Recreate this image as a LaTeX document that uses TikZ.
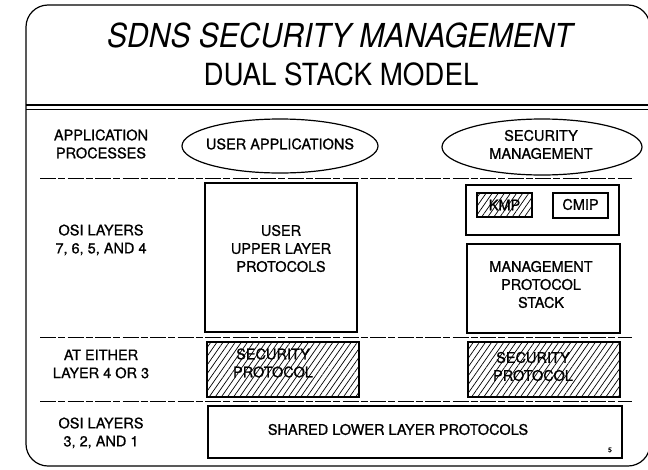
\documentclass[tikz,border=0pt]{standalone}
\usepackage{fontspec}
\setmainfont{TeX Gyre Heros}
\newfontfamily\titlefont[FakeStretch=0.91]{TeX Gyre Heros}
\newfontfamily\bodyfont[FakeBold=0.9]{TeX Gyre Heros}
\usetikzlibrary{shapes.geometric,patterns.meta}

\tikzset{
  frameline/.style={line width=1.2pt},
  layerline/.style={line width=0.7pt, dash pattern=on 16pt off 2pt on 7pt off 2.5pt},
  box/.style={draw, line width=1.3pt, inner sep=0pt, outer sep=0pt},
  hatched/.style={box, pattern={Lines[angle=55,distance=5pt,line width=0.7pt]}},
  oval/.style={draw, ellipse, line width=1.2pt, inner sep=0pt, outer sep=0pt},
  txt/.style={align=center, inner sep=0pt, font=\bodyfont\fontsize{14.5}{18}\selectfont},
}

\begin{document}
\begin{tikzpicture}[x=1pt, y=-1pt]
  \useasboundingbox (0,0) rectangle (648,469);
  \fill[white] (0,0) rectangle (648,469);

  % outer frame of the slide
  \draw[frameline, rounded corners=22pt] (650,466) -- (26,466) -- (26,5) -- (650,5) -- cycle;

  % title
  \node[anchor=base, inner sep=0pt, font=\titlefont\itshape\fontsize{33}{36}\selectfont] (title) at (340,47) {SDNS SECURITY MANAGEMENT};
  \node[anchor=base, inner sep=0pt, font=\titlefont\fontsize{30.5}{34}\selectfont] (subtitle) at (341,85) {DUAL STACK MODEL};

  % double rule under the title
  \draw[line width=1.8pt] (26,105) -- (648,105);
  \draw[line width=0.8pt] (26,109.5) -- (648,109.5);

  % layer separators
  \draw[layerline] (40,178) -- (632,178);
  \draw[layerline] (40,337) -- (632,337);
  \draw[layerline] (40,401) -- (632,401);

  % layer names
  \node[txt] (lapp) at (101,144) {APPLICATION\\PROCESSES};
  \node[txt] (losi7) at (101,240) {OSI LAYERS\\7, 6, 5, AND 4};
  \node[txt] (leither) at (101,364) {AT EITHER\\LAYER 4 OR 3};
  \node[txt] (losi3) at (101,433) {OSI LAYERS\\3, 2, AND 1};

  % application processes
  \node[oval, minimum width=196pt, minimum height=54pt] (userapp) at (280,146) {};
  \node[txt] (userapptext) at (280,144) {USER APPLICATIONS};
  \node[oval, minimum width=200pt, minimum height=56pt] (secmgmt) at (542,147) {};
  \node[txt] (secmgmttext) at (541,144.5) {SECURITY\\MANAGEMENT};

  % user stack
  \node[box, minimum width=152pt, minimum height=149pt] (upper) at (281,257.5) {};
  \node[txt] (uppertext) at (281,248.5) {USER\\UPPER LAYER\\PROTOCOLS};
  \node[hatched, minimum width=152pt, minimum height=55pt] (secL) at (283,369.5) {};
  \node[txt] (secLtext) at (273,363) {SECURITY\\PROTOCOL};

  % management stack
  \node[box, minimum width=153pt, minimum height=50pt] (apps) at (542.5,210) {};
  \node[hatched, minimum width=55pt, minimum height=24pt] (kmp) at (504.5,205) {};
  \node[txt] (kmptext) at (504.5,205) {KMP};
  \node[box, minimum width=55pt, minimum height=25pt] (cmip) at (580.5,205.5) {};
  \node[txt] (cmiptext) at (580.5,204.5) {CMIP};
  \node[box, minimum width=153pt, minimum height=89pt] (mgmt) at (543.5,288.5) {};
  \node[txt] (mgmttext) at (541,284.5) {MANAGEMENT\\PROTOCOL\\STACK};
  \node[hatched, minimum width=152pt, minimum height=55pt] (secR) at (544,369.5) {};
  \node[txt] (secRtext) at (533,366.5) {SECURITY\\PROTOCOL};

  % shared lower layers
  \node[box, minimum width=414pt, minimum height=52pt] (shared) at (415,432) {};
  \node[txt] (sharedtext) at (398,429.5) {SHARED LOWER LAYER PROTOCOLS};
  \node[inner sep=0pt, font=\bodyfont\fontsize{7}{8}\selectfont] (pagenum) at (610,450) {5};
\end{tikzpicture}
\end{document}
